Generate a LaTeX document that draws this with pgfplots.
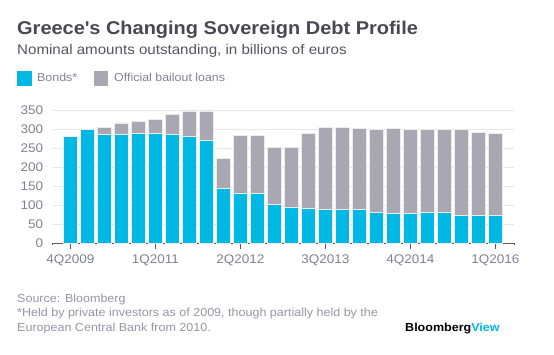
\documentclass[border=0pt]{standalone}
\usepackage{pgfplots}
\pgfplotsset{compat=1.18}
\usepackage{fontspec}
\setmainfont{Liberation Sans}[FakeStretch=1.08]
\definecolor{bondblue}{RGB}{0,184,228}
\definecolor{loangray}{RGB}{168,167,178}
\definecolor{titlecol}{RGB}{72,71,82}
\definecolor{subcol}{RGB}{85,84,95}
\definecolor{tickcol}{RGB}{130,129,145}
\definecolor{footcol}{RGB}{150,149,165}
\definecolor{gridcol}{RGB}{230,230,233}
\definecolor{axiscol}{RGB}{90,90,100}
\begin{document}
\begin{tikzpicture}[x=1pt,y=1pt]
\path[use as bounding box] (0,0) rectangle (554,355);
% title etc.
\node[anchor=base west,inner sep=0,text=titlecol,font=\fontsize{18.5}{20}\selectfont\bfseries] at (17,320) {Greece\textquotesingle s Changing Sovereign Debt Profile};
\node[anchor=base west,inner sep=0,text=subcol,font=\fontsize{14}{16}\selectfont] at (17,300) {Nominal amounts outstanding, in billions of euros};
\fill[bondblue] (17.3,269.3) rectangle (31.7,284.3);
\node[anchor=base west,inner sep=0,text=tickcol,font=\fontsize{11.5}{13}\selectfont] at (37,273) {Bonds*};
\fill[loangray] (94,269.3) rectangle (108.3,284.3);
\node[anchor=base west,inner sep=0,text=tickcol,font=\fontsize{11.5}{13}\selectfont] at (114,273) {Official bailout loans};
% footer
\node[anchor=base west,inner sep=0,text=footcol,font=\fontsize{11.6}{13}\selectfont] at (17,52) {Source: Bloomberg};
\node[anchor=base west,inner sep=0,text=footcol,font=\fontsize{11.6}{13}\selectfont] at (17,38.3) {*Held by private investors as of 2009, though partially held by the};
\node[anchor=base west,inner sep=0,text=footcol,font=\fontsize{11.6}{13}\selectfont] at (17,23.3) {European Central Bank from 2010.};
\node[anchor=base west,inner sep=0,font=\fontsize{11.6}{14}\selectfont\bfseries] at (405,23.5) {Bloomberg\textcolor{bondblue}{View}};
\begin{axis}[
  at={(52.7pt,111.7pt)}, anchor=south west,
  scale only axis, width=461.3pt, height=133pt,
  xmin=-1.035, xmax=26.1, ymin=0, ymax=350,
  ybar stacked, bar width=0.82,
  axis lines*=left,
  y axis line style={draw=none},
  x axis line style={draw=axiscol, line width=0.8pt},
  ytick={0,50,...,350}, ymajorgrids, grid style={gridcol, line width=0.6pt},
  major y tick style={draw=none},
  xtick={0,5,10,15,20,25},
  xticklabels={4Q2009,1Q2011,2Q2012,3Q2013,4Q2014,1Q2016},
  major x tick style={draw=axiscol, line width=0.8pt},
  tick align=outside, major tick length=6pt,
  extra x ticks={-1.035,26.1}, extra x tick labels={},
  extra x tick style={major tick length=2pt, grid=none},
  ticklabel style={text=tickcol, font=\fontsize{12.5}{14}\selectfont},
  xticklabel style={yshift=-2pt},
  yticklabel style={xshift=0pt},
  /pgf/number format/assume math mode=true,
  clip=false,
]
\addplot[fill=bondblue, draw=white!85!gray, line width=0.5pt] coordinates {
(0,282) (1,300) (2,286) (3,286) (4,289) (5,289) (6,286) (7,281) (8,271) (9,144)
(10,133) (11,131) (12,102) (13,96) (14,91) (15,89) (16,89) (17,89) (18,81) (19,78)
(20,78) (21,81) (22,81) (23,73) (24,73) (25,73)};
\addplot[fill=loangray, draw=white!85!gray, line width=0.5pt] coordinates {
(0,0) (1,0) (2,19) (3,31) (4,32) (5,37) (6,53) (7,67) (8,77) (9,80)
(10,151) (11,153) (12,151) (13,157) (14,198) (15,216) (16,216) (17,214) (18,219) (19,225)
(20,222) (21,219) (22,219) (23,227) (24,219) (25,216)};
\end{axis}
\end{tikzpicture}
\end{document}
